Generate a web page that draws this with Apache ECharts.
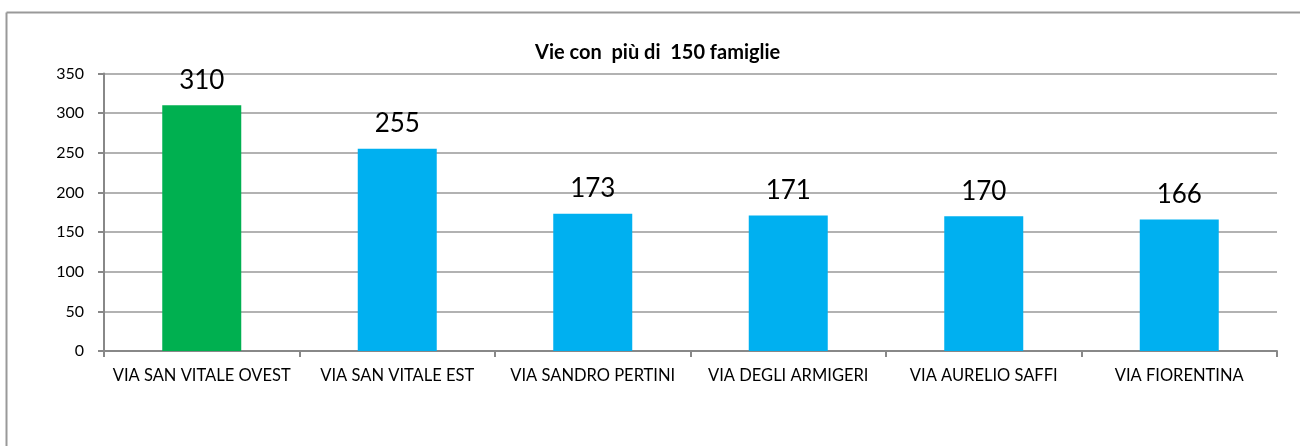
<!DOCTYPE html>
<html>
<head>
<meta charset="utf-8">
<script src="https://cdn.jsdelivr.net/npm/echarts@6/dist/echarts.min.js"></script>
<style>
html, body { margin: 0; padding: 0; background: #fff; }
#chart { width: 1300px; height: 446px; }
</style>
</head>
<body>
<div id="chart"></div>
<script>
// dati
const streets = ['VIA SAN VITALE OVEST', 'VIA SAN VITALE EST', 'VIA SANDRO PERTINI', 'VIA DEGLI ARMIGERI', 'VIA AURELIO SAFFI', 'VIA FIORENTINA'];
const families = [310, 255, 173, 171, 170, 166];
const barColors = ['#00B050', '#00B0F0', '#00B0F0', '#00B0F0', '#00B0F0', '#00B0F0'];

const chart = echarts.init(document.getElementById('chart'));
const font = 'Lato, "Open Sans", sans-serif';

chart.setOption({
	animation: false,
	backgroundColor: '#fff',
	title: {
		text: 'Vie con  più di  150 famiglie',
		left: 530,
		top: 38,
		textStyle: { fontFamily: font, fontSize: 20, fontWeight: 'bold', color: '#000' }
	},
	graphic: [
		{ type: 'line', shape: { x1: 6.5, y1: 12.5, x2: 1300, y2: 12.5 }, style: { stroke: '#999', lineWidth: 2 } },
		{ type: 'line', shape: { x1: 6.5, y1: 12.5, x2: 6.5, y2: 446 }, style: { stroke: '#999', lineWidth: 2 } }
	],
	grid: { left: 104, right: 23, top: 73.5, bottom: 95 },
	xAxis: {
		type: 'category',
		data: streets,
		axisLine: { lineStyle: { color: '#888', width: 2 } },
		axisTick: { show: true, length: 6, lineStyle: { color: '#888', width: 2 } },
		axisLabel: { fontFamily: font, fontSize: 16.5, color: '#000', margin: 16, interval: 0 }
	},
	yAxis: {
		type: 'value',
		min: 0,
		max: 350,
		interval: 50,
		axisLine: { show: true, lineStyle: { color: '#888', width: 2 } },
		axisTick: { show: true, length: 6, lineStyle: { color: '#888', width: 2 } },
		splitLine: { lineStyle: { color: '#999', width: 1.5 } },
		axisLabel: { fontFamily: font, fontSize: 16, color: '#000', margin: 20 }
	},
	series: [{
		type: 'bar',
		barWidth: 79,
		data: families.map((v, i) => ({ value: v, itemStyle: { color: barColors[i] } })),
		label: {
			show: true,
			position: 'top',
			distance: 12,
			fontFamily: font,
			fontSize: 26,
			color: '#000'
		}
	}]
});
</script>
</body>
</html>
